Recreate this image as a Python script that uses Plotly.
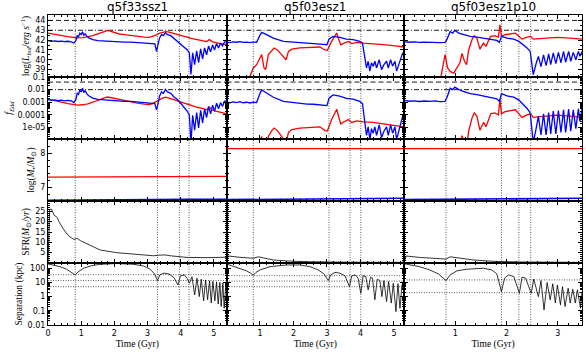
import plotly.graph_objects as go
from plotly.subplots import make_subplots

RED = "#ff0000"
BLUE = "#0000ff"

titles = ["q5f33ssz1", "q5f03esz1", "q5f03esz1p10"]
t_max = [5.38, 5.3, 3.47]
x_ticks = [[0, 1, 2, 3, 4, 5], [1, 2, 3, 4, 5], [1, 2, 3]]
event_times = [[0.82, 3.3, 3.96, 4.25], [0.8, 3.06, 3.69, 4.01], [0.82, 1.9, 2.24, 2.47]]
sep_refs = [[35, 13.5, 5], [30, 12.5, 5], [15, 1.9]]
lbol_refs = [44, 43]
fedd_refs = [0.04, 0.01]

# ---- q5f33ssz1 ----
t_blue_1 = [0, 0.1, 0.2, 0.3, 0.4, 0.5, 0.6, 0.7, 0.78, 0.84, 0.88, 0.92, 0.96, 1.0, 1.04, 1.08,
            1.12, 1.18, 1.25, 1.35, 1.5, 1.7, 1.9, 2.1, 2.3, 2.5, 2.7, 2.9, 3.1, 3.22, 3.27, 3.3,
            3.36, 3.42, 3.48, 3.54, 3.6, 3.7, 3.8, 3.9, 4.0, 4.1, 4.2, 4.26, 4.31, 4.36, 4.42,
            4.48, 4.54, 4.6, 4.66, 4.72, 4.78, 4.84, 4.9, 4.96, 5.02, 5.08, 5.14, 5.2, 5.26, 5.32, 5.38]
lbol_blue_1 = [41.95, 41.88, 41.92, 41.86, 41.9, 41.84, 41.88, 41.83, 41.7, 41.95, 42.45, 42.35,
               42.7, 42.55, 42.85, 42.5, 42.65, 42.35, 42.2, 42.05, 41.95, 41.9, 41.85, 41.85, 41.8,
               41.8, 41.75, 41.72, 41.68, 41.62, 40.85, 41.4, 42.2, 42.55, 42.45, 42.75, 42.55,
               42.45, 42.15, 41.95, 41.65, 41.35, 41.0, 40.7, 38.5, 40.7, 39.5, 40.9, 39.7, 41.1,
               40.1, 41.2, 40.5, 41.4, 40.8, 41.5, 41.0, 41.65, 41.2, 41.7, 41.4, 41.8, 41.85]
fedd_blue_1 = [1.66e-3, 1.41e-3, 1.55e-3, 1.35e-3, 1.48e-3, 1.29e-3, 1.41e-3, 1.26e-3, 9.3e-4,
               1.66e-3, 5.2e-3, 4.2e-3, 9.3e-3, 6.6e-3, 1.3e-2, 5.9e-3, 8.3e-3, 4.2e-3, 3.0e-3,
               2.1e-3, 1.66e-3, 1.48e-3, 1.32e-3, 1.32e-3, 1.17e-3, 1.17e-3, 1.05e-3, 9.8e-4,
               8.9e-4, 7.8e-4, 2.5e-4, 4.7e-4, 3.0e-3, 6.6e-3, 5.2e-3, 1.05e-2, 6.6e-3, 5.2e-3,
               2.6e-3, 1.66e-3, 8.3e-4, 4.2e-4, 1.9e-4, 9.3e-5, 5.9e-7, 9.3e-5, 5.9e-6, 1.5e-4,
               9.3e-6, 2.3e-4, 2.3e-5, 3.0e-4, 5.9e-5, 4.7e-4, 1.2e-4, 5.9e-4, 1.9e-4, 8.3e-4,
               3.0e-4, 9.3e-4, 4.7e-4, 1.17e-3, 1.32e-3]
t_red_1 = [0, 0.15, 0.3, 0.45, 0.6, 0.75, 0.9, 1.05, 1.2, 1.35, 1.5, 1.62, 1.72, 1.8, 1.9, 2.0,
           2.15, 2.3, 2.5, 2.7, 2.9, 3.05, 3.15, 3.25, 3.35, 3.45, 3.55, 3.65, 3.75, 3.9, 4.05,
           4.2, 4.35, 4.5, 4.65, 4.78, 4.86, 4.95, 5.05, 5.15, 5.25, 5.38]
lbol_red_1 = [42.7, 42.6, 42.5, 42.42, 42.35, 42.28, 42.22, 42.25, 42.32, 42.45, 42.62, 42.78,
              42.9, 42.98, 42.88, 42.75, 42.62, 42.55, 42.45, 42.38, 42.3, 42.27, 42.35, 42.5,
              42.68, 42.78, 42.85, 42.8, 42.7, 42.55, 42.42, 42.3, 42.15, 42.05, 41.95, 41.85,
              42.05, 41.85, 41.75, 41.7, 41.6, 41.55]
fedd_red_1 = [1.78e-3, 1.41e-3, 1.12e-3, 9.3e-4, 7.9e-4, 6.8e-4, 5.9e-4, 6.3e-4, 7.4e-4, 1.0e-3,
              1.48e-3, 2.0e-3, 2.3e-3, 2.6e-3, 2.3e-3, 2.0e-3, 1.48e-3, 1.26e-3, 1.0e-3, 8.5e-4,
              7.1e-4, 6.6e-4, 7.9e-4, 1.12e-3, 1.7e-3, 2.1e-3, 2.5e-3, 2.2e-3, 1.78e-3, 1.26e-3,
              9.3e-4, 7.1e-4, 5.0e-4, 4.0e-4, 3.2e-4, 2.5e-4, 4.0e-4, 2.5e-4, 2.0e-4, 1.78e-4,
              1.41e-4, 1.26e-4]
t_mass_1 = [0, 1, 3.3, 4.3, 5.38]
mass_red_1 = [7.3, 7.3, 7.31, 7.32, 7.32]
mass_blue_1 = [6.62, 6.63, 6.64, 6.65, 6.65]
t_sfr_1 = [0, 0.02, 0.05, 0.11, 0.18, 0.28, 0.33, 0.48, 0.63, 0.78, 0.88, 0.98, 1.27, 1.57, 2.07,
           2.58, 3.18, 3.35, 3.53, 3.68, 4.19, 4.79, 5.38]
sfr_1 = [0, 16, 26, 26, 23.2, 22, 20, 16, 13, 11.4, 11.9, 10.8, 8.7, 6.3, 5.0, 4.2, 3.5, 3.8,
         3.9, 3.5, 2.7, 2.6, 2.8]
t_sep_1 = [0, 0.36, 0.56, 0.71, 0.82, 0.92, 1.07, 1.32, 1.57, 2.07, 2.58, 2.88, 3.08, 3.21, 3.3,
           3.37, 3.49, 3.64, 3.79, 3.92, 3.99, 4.11, 4.2, 4.26, 4.34, 4.42, 4.49, 4.56, 4.62,
           4.69, 4.75, 4.81, 4.87, 4.92, 4.97, 5.03, 5.08, 5.13, 5.18, 5.22, 5.27, 5.31, 5.36, 5.38]
sep_1 = [200, 130, 85, 49, 34, 58, 100, 152, 190, 215, 190, 145, 85, 40, 13.5, 34, 45, 40, 23,
         6.6, 29, 34, 18, 8.7, 25, 1.3, 20, 1.0, 17, 0.5, 15, 0.6, 13, 0.35, 12, 0.5, 11, 0.3,
         10, 0.2, 9, 0.15, 8, 7.5]

# ---- q5f03esz1 ----
t_blue_2 = [0, 0.1, 0.2, 0.3, 0.4, 0.5, 0.6, 0.7, 0.8, 0.9, 0.98, 1.05, 1.1, 1.2, 1.4, 1.7, 2.0,
            2.2, 2.4, 2.6, 2.8, 3.0, 3.06, 3.18, 3.38, 3.58, 3.78, 3.98, 4.06, 4.13, 4.18, 4.23,
            4.28, 4.33, 4.38, 4.43, 4.48, 4.56, 4.63, 4.7, 4.78, 4.83, 4.9, 4.96, 5.03, 5.08,
            5.16, 5.21, 5.26, 5.3]
lbol_blue_2 = [41.8, 41.75, 41.82, 41.78, 41.84, 41.76, 41.8, 41.74, 41.8, 41.78, 42.38, 42.78,
               42.7, 42.55, 42.2, 41.87, 41.77, 41.72, 41.66, 41.64, 41.6, 41.53, 42.1, 42.38,
               42.28, 42.1, 42.04, 41.87, 41.7, 40.18, 39.17, 39.85, 38.85, 39.7, 39.35, 39.85,
               39.17, 40.0, 39.0, 39.5, 39.85, 39.17, 40.0, 39.35, 39.85, 38.85, 39.7, 40.35,
               40.7, 40.4]
fedd_blue_2 = [1.0e-3, 8.9e-4, 1.05e-3, 9.5e-4, 1.1e-3, 9.1e-4, 1.0e-3, 8.7e-4, 1.0e-3, 9.5e-4,
               3.8e-3, 9.5e-3, 7.9e-3, 5.6e-3, 2.5e-3, 1.17e-3, 9.3e-4, 8.3e-4, 7.2e-4, 6.9e-4,
               6.3e-4, 5.4e-4, 2.0e-3, 3.8e-3, 3.0e-3, 2.0e-3, 1.74e-3, 1.17e-3, 7.9e-4, 2.4e-5,
               2.3e-6, 1.12e-5, 1.1e-6, 7.9e-6, 3.5e-6, 1.12e-5, 2.3e-6, 1.6e-5, 1.6e-6, 5.0e-6,
               1.12e-5, 2.3e-6, 1.6e-5, 3.5e-6, 1.12e-5, 1.1e-6, 7.9e-6, 3.5e-5, 7.9e-5, 4.0e-5]
t_red_2 = [0.66, 0.75, 0.8, 0.9, 0.98, 1.05, 1.12, 1.17, 1.25, 1.35, 1.42, 1.52, 1.65, 1.78,
           1.85, 1.95, 2.19, 2.49, 2.79, 2.94, 3.01, 3.14, 3.24, 3.29, 3.34, 3.41, 3.51, 3.64,
           3.74, 3.89, 4.08, 4.38, 4.68, 4.98, 5.3]
lbol_red_2 = [38.0, 38.82, 39.17, 39.5, 40.0, 40.53, 39.17, 39.0, 40.53, 41.0, 41.2, 41.0, 40.53,
              40.0, 40.85, 41.08, 41.2, 41.26, 41.3, 41.0, 40.96, 41.87, 42.38, 42.7, 42.2, 41.53,
              41.7, 41.87, 41.64, 41.77, 41.7, 41.64, 41.53, 41.43, 41.3]
fedd_red_2 = [5.6e-9, 3.7e-8, 8.3e-8, 1.8e-7, 5.6e-7, 1.9e-6, 8.3e-8, 5.6e-8, 1.9e-6, 5.6e-6,
              8.9e-6, 5.6e-6, 1.9e-6, 5.6e-7, 4.0e-6, 6.8e-6, 8.9e-6, 1.02e-5, 1.12e-5, 5.6e-6,
              5.1e-6, 4.2e-5, 1.35e-4, 2.8e-4, 8.9e-5, 1.9e-5, 2.8e-5, 4.2e-5, 2.5e-5, 3.3e-5,
              2.8e-5, 2.5e-5, 1.9e-5, 1.5e-5, 1.12e-5]
t_mass_2 = [0, 1, 3, 5.3]
mass_red_2 = [8.14, 8.14, 8.14, 8.14]
mass_blue_2 = [6.64, 6.65, 6.67, 6.68]
t_sfr_2 = [0, 0.05, 0.4, 0.8, 0.95, 1.1, 1.4, 1.8, 2.4, 3.5, 5.3]
sfr_2 = [0, 3.4, 2.75, 2.3, 3.0, 2.5, 1.45, 1.0, 0.6, 0.4, 0.3]
t_sep_2 = [0, 0.4, 0.6, 0.72, 0.8, 0.88, 1.0, 1.3, 1.8, 2.19, 2.49, 2.74, 2.91, 3.04, 3.11, 3.24,
           3.39, 3.54, 3.67, 3.74, 3.84, 3.93, 4.01, 4.08, 4.16, 4.23, 4.3, 4.36, 4.43, 4.5,
           4.58, 4.64, 4.7, 4.78, 4.84, 4.92, 4.98, 5.06, 5.12, 5.18, 5.24, 5.3]
sep_2 = [200, 100, 65, 45, 32, 51, 76, 130, 170, 170, 130, 76, 40, 13.5, 34, 51, 45, 29, 5, 29,
         34, 20, 1.7, 29, 26, 3, 23, 20, 0.6, 17, 13.5, 1.0, 13.5, 0.45, 11.5, 0.35, 8.7, 0.087,
         8, 0.15, 6.6, 2]

# ---- q5f03esz1p10 ----
t_blue_3 = [0, 0.1, 0.2, 0.3, 0.4, 0.5, 0.6, 0.7, 0.8, 0.84, 0.9, 0.95, 0.99, 1.07, 1.17, 1.29,
            1.42, 1.55, 1.68, 1.81, 1.86, 1.9, 2.01, 2.14, 2.24, 2.33, 2.4, 2.46, 2.49, 2.52,
            2.58, 2.62, 2.67, 2.72, 2.77, 2.82, 2.86, 2.91, 2.96, 3.01, 3.06, 3.11, 3.15, 3.21,
            3.25, 3.3, 3.35, 3.4, 3.43, 3.47]
lbol_blue_3 = [41.85, 41.78, 41.82, 41.76, 41.8, 41.77, 41.81, 41.75, 41.77, 42.1, 42.88, 42.7,
               42.98, 42.7, 42.55, 42.38, 42.3, 42.2, 42.1, 41.97, 41.77, 42.38, 42.2, 42.1, 41.87,
               41.53, 41.2, 40.85, 39.5, 38.5, 39.7, 40.35, 39.3, 40.5, 39.4, 40.6, 39.5, 40.7,
               39.6, 40.75, 39.7, 40.85, 39.75, 40.85, 39.85, 40.75, 40.0, 40.85, 40.35, 40.85]
fedd_blue_3 = [1.41e-3, 1.2e-3, 1.3e-3, 1.15e-3, 1.25e-3, 1.17e-3, 1.28e-3, 1.12e-3, 1.17e-3,
               2.5e-3, 1.3e-2, 1.0e-2, 1.6e-2, 1.0e-2, 7.1e-3, 4.8e-3, 4.0e-3, 3.2e-3, 2.5e-3,
               1.86e-3, 1.17e-3, 4.8e-3, 3.2e-3, 2.5e-3, 1.48e-3, 6.8e-4, 3.2e-4, 1.41e-4, 6.3e-6,
               6e-7, 1.0e-5, 8e-5, 2.5e-6, 1.2e-4, 2.5e-6, 1.5e-4, 3e-6, 2e-4, 3e-6, 2.2e-4, 4e-6,
               2.5e-4, 4e-6, 2.8e-4, 5e-6, 2.5e-4, 8e-6, 3e-4, 3e-5, 3e-4]
t_red_3 = [0.71, 0.77, 0.8, 0.85, 0.9, 0.97, 1.03, 1.09, 1.13, 1.18, 1.22, 1.26, 1.33, 1.37,
           1.42, 1.48, 1.55, 1.6, 1.64, 1.69, 1.77, 1.84, 1.87, 1.9, 1.97, 2.07, 2.17, 2.24, 2.3,
           2.4, 2.47, 2.52, 2.72, 2.98, 3.24, 3.47]
lbol_red_3 = [38.0, 39.7, 40.53, 39.17, 38.82, 38.65, 39.17, 39.7, 40.64, 39.85, 39.5, 41.0, 42.1,
              42.45, 42.2, 41.08, 41.7, 41.36, 41.87, 42.38, 42.45, 42.3, 43.55, 42.38, 42.55,
              42.6, 42.7, 42.38, 42.1, 42.3, 42.38, 42.1, 42.2, 42.28, 42.2, 42.1]
fedd_red_3 = [5e-9, 2.5e-7, 1.7e-6, 7.4e-8, 3.3e-8, 2.2e-8, 7.4e-8, 2.5e-7, 2.2e-6, 3.5e-7,
              1.6e-7, 5.0e-6, 6.3e-5, 1.41e-4, 7.9e-5, 6.0e-6, 2.5e-5, 1.15e-5, 3.7e-5, 1.2e-4,
              1.41e-4, 1.0e-4, 1.78e-3, 1.2e-4, 1.78e-4, 2.0e-4, 2.5e-4, 1.2e-4, 6.3e-5, 1.0e-4,
              1.2e-4, 6.3e-5, 7.9e-5, 9.5e-5, 7.9e-5, 6.3e-5]
t_mass_3 = [0, 1, 2.5, 3.47]
mass_red_3 = [8.14, 8.14, 8.14, 8.14]
mass_blue_3 = [6.64, 6.65, 6.67, 6.68]
t_sfr_3 = [0, 0.04, 0.3, 0.6, 0.82, 0.9, 1.03, 1.36, 1.75, 2.26, 3.47]
sfr_3 = [0, 3.4, 2.7, 2.2, 1.9, 3.0, 2.6, 1.45, 0.8, 0.5, 0.3]
t_sep_3 = [0, 0.3, 0.5, 0.67, 0.82, 0.9, 1.03, 1.22, 1.55, 1.71, 1.81, 1.9, 1.96, 2.04, 2.14,
           2.25, 2.3, 2.37, 2.48, 2.53, 2.62, 2.67, 2.73, 2.79, 2.85, 2.9, 2.95, 2.99, 3.05, 3.09,
           3.14, 3.2, 3.24, 3.29, 3.34, 3.38, 3.44, 3.47]
sep_3 = [210, 130, 76, 40, 13.5, 34, 65, 85, 100, 76, 40, 2.2, 20, 34, 26, 1.7, 23, 20, 1.7, 17,
         1.0, 13.5, 0.115, 9.8, 0.59, 8, 0.35, 6.6, 0.26, 5, 0.2, 3.9, 0.35, 3.3, 0.35, 3, 0.15,
         2.2]

runs = [
    dict(tb=t_blue_1, lb=lbol_blue_1, fb=fedd_blue_1, tr=t_red_1, lr=lbol_red_1, fr=fedd_red_1,
         tm=t_mass_1, mr=mass_red_1, mb=mass_blue_1, ts=t_sfr_1, s=sfr_1, tp=t_sep_1, p=sep_1),
    dict(tb=t_blue_2, lb=lbol_blue_2, fb=fedd_blue_2, tr=t_red_2, lr=lbol_red_2, fr=fedd_red_2,
         tm=t_mass_2, mr=mass_red_2, mb=mass_blue_2, ts=t_sfr_2, s=sfr_2, tp=t_sep_2, p=sep_2),
    dict(tb=t_blue_3, lb=lbol_blue_3, fb=fedd_blue_3, tr=t_red_3, lr=lbol_red_3, fr=fedd_red_3,
         tm=t_mass_3, mr=mass_red_3, mb=mass_blue_3, ts=t_sfr_3, s=sfr_3, tp=t_sep_3, p=sep_3),
]

fig = make_subplots(rows=5, cols=3, horizontal_spacing=0, vertical_spacing=0,
                    column_widths=[178.5, 177.5, 178])


def line(x, y, color, width, dash="solid"):
    return go.Scatter(x=x, y=y, mode="lines", line=dict(color=color, width=width, dash=dash),
                      showlegend=False, hoverinfo="skip")


for c, run in enumerate(runs):
    col = c + 1
    xr = [0, t_max[c]]
    # reference levels
    fig.add_trace(line(xr, [lbol_refs[0]] * 2, "black", 0.9, "5px,3px"), row=1, col=col)
    fig.add_trace(line(xr, [lbol_refs[1]] * 2, "black", 0.9, "5px,2px,1px,2px"), row=1, col=col)
    fig.add_trace(line(xr, [fedd_refs[0]] * 2, "black", 0.9, "5px,3px"), row=2, col=col)
    fig.add_trace(line(xr, [fedd_refs[1]] * 2, "black", 0.9, "5px,2px,1px,2px"), row=2, col=col)
    for v in sep_refs[c]:
        fig.add_trace(line(xr, [v, v], "#333333", 0.8, "1px,1.5px"), row=5, col=col)

    fig.add_trace(line(run["tr"], run["lr"], RED, 1.3), row=1, col=col)
    fig.add_trace(line(run["tb"], run["lb"], BLUE, 1.3), row=1, col=col)
    fig.add_trace(line(run["tr"], run["fr"], RED, 1.3), row=2, col=col)
    fig.add_trace(line(run["tb"], run["fb"], BLUE, 1.3), row=2, col=col)
    fig.add_trace(line(run["tm"], run["mr"], RED, 1.3), row=3, col=col)
    fig.add_trace(line(run["tm"], run["mb"], BLUE, 1.6), row=3, col=col)
    fig.add_trace(line(run["ts"], run["s"], "black", 0.8), row=4, col=col)
    fig.add_trace(line(run["tp"], run["p"], "black", 0.8), row=5, col=col)

    for v in event_times[c]:
        fig.add_vline(x=v, line=dict(color="#333333", width=0.8, dash="1px,1.5px"),
                      row="all", col=col)

    fig.add_annotation(text=titles[c], xref="x%s domain" % ("" if col == 1 else col),
                       yref="paper", x=0.5, y=1, yanchor="middle", yshift=8, showarrow=False,
                       font=dict(family="DejaVu Sans", size=12, color="black"))

tick_font = dict(family="DejaVu Sans", size=8, color="black")
title_font = dict(family="Liberation Serif", size=9.5, color="black")
common = dict(showline=True, linecolor="black", linewidth=1, mirror="allticks",
              ticks="inside", ticklen=4, tickwidth=0.8, tickcolor="black",
              showgrid=False, zeroline=False, tickfont=tick_font)

for c in range(3):
    for r in range(1, 6):
        fig.update_xaxes(range=[0, t_max[c]], tickmode="array", tickvals=x_ticks[c],
                         showticklabels=(r == 5),
                         minor=dict(ticks="inside", ticklen=2, dtick=0.2, tickcolor="black",
                                    tickwidth=0.6),
                         row=r, col=c + 1, **common)
    fig.update_xaxes(title=dict(text="Time (Gyr)", font=title_font, standoff=3), row=5, col=c + 1)

    lab = (c == 0)
    fig.update_yaxes(range=[38.25, 44.55], tickvals=[39, 40, 41, 42, 43, 44], showticklabels=lab,
                     minor=dict(ticks="inside", ticklen=2, dtick=0.5, tickcolor="black"),
                     row=1, col=c + 1, **common)
    fig.update_yaxes(type="log", range=[-5.92, -0.995],
                     tickvals=[1e-5, 1e-4, 1e-3, 1e-2, 1e-1],
                     ticktext=["1e-05", "0.0001", "0.001", "0.01", "0.1"], showticklabels=lab,
                     minor=dict(ticks="inside", ticklen=2, dtick="D1", tickcolor="black"),
                     row=2, col=c + 1, **common)
    fig.update_yaxes(range=[6.6, 8.42], tickvals=[7, 8], showticklabels=lab,
                     minor=dict(ticks="inside", ticklen=2, dtick=0.2, tickcolor="black"),
                     row=3, col=c + 1, **common)
    fig.update_yaxes(range=[0, 30], tickvals=[5, 10, 15, 20, 25], showticklabels=lab,
                     minor=dict(ticks="inside", ticklen=2, dtick=1, tickcolor="black"),
                     row=4, col=c + 1, **common)
    fig.update_yaxes(type="log", range=[-2.005, 2.37], tickvals=[0.01, 0.1, 1, 10, 100],
                     ticktext=["0.01", "0.1", "1", "10", "100"], showticklabels=lab,
                     minor=dict(ticks="inside", ticklen=2, dtick="D1", tickcolor="black"),
                     row=5, col=c + 1, **common)

ylabels = ["log(<i>L</i><sub><i>bol</i></sub>/<i>erg s</i><sup>−1</sup>)",
           "<i>f</i><sub><i>Edd</i></sub>",
           "log(<i>M</i><sub>•</sub>/<i>M</i><sub>⊙</sub>)",
           "SFR(<i>M</i><sub>⊙</sub>/<i>yr</i>)",
           "Separation (kpc)"]
for r, text in enumerate(ylabels):
    fig.update_yaxes(title=dict(text=text, font=title_font, standoff=3), row=r + 1, col=1)

fig.update_layout(width=586, height=354, margin=dict(l=48, r=4, t=15, b=29, autoexpand=False),
                  plot_bgcolor="white", paper_bgcolor="white", showlegend=False)

# drop the default 8px page margin so the figure sits at the window's corner
fig.write_html("out.html", config={"displayModeBar": False},
               post_script="document.body.style.margin='0px';")
